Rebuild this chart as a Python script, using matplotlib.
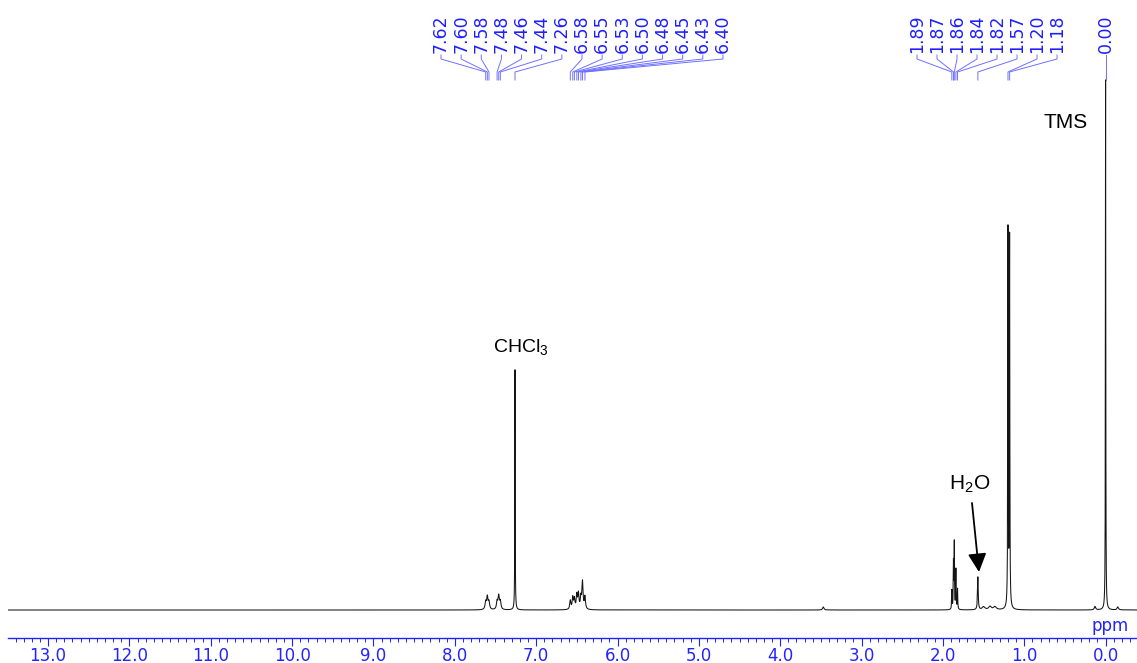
import numpy as np
import matplotlib
matplotlib.use("Agg")
import matplotlib.pyplot as plt
from matplotlib.ticker import FixedLocator, MultipleLocator

# ---------------- data ----------------
peak_ppm = [7.62, 7.60, 7.58, 7.48, 7.46, 7.44, 7.26,
            6.58, 6.55, 6.53, 6.50, 6.48, 6.45, 6.43, 6.40,
            3.47,
            1.89, 1.87, 1.86, 1.84, 1.82, 1.57, 1.50, 1.42, 1.36,
            1.20, 1.18, 0.13, 0.00, -0.15]
peak_height = [2.0, 3.3, 2.0, 2.1, 3.5, 2.1, 63.7,
               2.35, 3.1, 2.65, 3.7, 4.0, 3.0, 7.2, 3.3,
               0.8,
               5.0, 12.0, 17.3, 10.5, 5.4, 8.7, 0.8, 0.9, 0.8,
               100.0, 98.0, 0.9, 140.6, 0.8]
peak_hwhm = [0.009, 0.009, 0.009, 0.009, 0.009, 0.009, 0.0025,
             0.008, 0.008, 0.008, 0.008, 0.008, 0.008, 0.008, 0.008,
             0.01,
             0.003, 0.003, 0.003, 0.003, 0.003, 0.005, 0.02, 0.02, 0.02,
             0.003, 0.003, 0.01, 0.0025, 0.01]

labels_left = ["7.62", "7.60", "7.58", "7.48", "7.46", "7.44", "7.26",
               "6.58", "6.55", "6.53", "6.50", "6.48", "6.45", "6.43", "6.40"]
labels_right = ["1.89", "1.87", "1.86", "1.84", "1.82", "1.57", "1.20", "1.18"]
label_tms = "0.00"

major_ticks = list(range(0, 14))
tick_labels = ["%.1f" % t for t in major_ticks]

# ---------------- layout ----------------
W, H = 1137, 663
px_per_ppm = 81.35
x0_px = 1105.6          # pixel column of 0 ppm
ax_left_px = 8
ax_bottom_px = 637.5    # from top
base_px = 610.0         # baseline row from top
px_per_unit = 3.77

fig = plt.figure(figsize=(W / 100, H / 100), dpi=100)
ax = fig.add_axes([ax_left_px / W, (H - ax_bottom_px) / H,
                   (W - ax_left_px) / W, ax_bottom_px / H])

def ppm_of(px):
    return (x0_px - px) / px_per_ppm

def yfrac(py):
    return (ax_bottom_px - py) / ax_bottom_px

ax.set_xlim(ppm_of(ax_left_px), ppm_of(W))
ax.set_ylim(-(ax_bottom_px - base_px) / px_per_unit, base_px / px_per_unit)

# spectrum
x = np.arange(-0.5, 13.6, 0.0005)
y = np.zeros_like(x)
for c, h, w in zip(peak_ppm, peak_height, peak_hwhm):
    y += h / (1.0 + ((x - c) / w) ** 2)
ax.plot(x, y, color="#151515", lw=0.75)

# axes styling
for s in ["top", "left", "right"]:
    ax.spines[s].set_visible(False)
blue = "#2323ff"
ax.spines["bottom"].set_color(blue)
ax.spines["bottom"].set_linewidth(1.0)
ax.yaxis.set_visible(False)
ax.xaxis.set_major_locator(FixedLocator(major_ticks))
ax.set_xticklabels(tick_labels)
ax.xaxis.set_minor_locator(MultipleLocator(0.1))
ax.tick_params(axis="x", which="major", direction="out", length=6, width=0.8,
               color=blue, labelcolor=blue, labelsize=12, pad=0.5)
ax.tick_params(axis="x", which="minor", direction="out", length=3, width=0.7,
               color=blue)

tr = ax.get_xaxis_transform()
ax.text(ppm_of(1110), yfrac(626), "ppm", color=blue, fontsize=12,
        ha="center", va="center", transform=tr)

# peak labels with connectors
lab_color = "#1f1fff"
line_color = "#7070ff"
y_txt, y1, y2, y3 = 53, 59, 72, 80

def draw_group(labels, start_px, step_px):
    for i, lab in enumerate(labels):
        lx = ppm_of(start_px + i * step_px)
        px = float(lab)
        ax.text(lx, yfrac(y_txt), lab, rotation=90, rotation_mode="anchor",
                ha="left", va="center", color=lab_color, fontsize=12.5,
                transform=tr)
        ax.plot([lx, lx, px, px], [yfrac(y_txt + 2), yfrac(y1), yfrac(y2), yfrac(y3)],
                color=line_color, lw=0.7, transform=tr, clip_on=False)

draw_group(labels_left, 441, 20.14)
draw_group(labels_right, 917, 20.0)
ax.text(0.0, yfrac(y_txt), label_tms, rotation=90, rotation_mode="anchor",
        ha="left", va="center", color=lab_color, fontsize=12.5, transform=tr)
ax.plot([0.0, 0.0], [yfrac(y_txt + 2), yfrac(y3)], color=line_color, lw=0.7,
        transform=tr)

# annotations
plt.rcParams["mathtext.fontset"] = "custom"
plt.rcParams["mathtext.rm"] = "Liberation Sans"
ann = dict(color="black", family="Liberation Sans", transform=tr,
           ha="center", va="center")
ax.text(ppm_of(1066), yfrac(122), "TMS", fontsize=15, **ann)
ax.text(ppm_of(521), yfrac(348), r"CHCl$_\mathrm{3}$", fontsize=14, **ann)
ax.text(ppm_of(970), yfrac(484), r"H$_\mathrm{2}$O", fontsize=15, **ann)
ax.annotate("", xy=(ppm_of(979), yfrac(572)), xycoords=tr,
            xytext=(ppm_of(972), yfrac(503)), textcoords=tr,
            arrowprops=dict(arrowstyle="-|>,head_length=0.8,head_width=0.4",
                            color="black", lw=1.3, mutation_scale=14,
                            shrinkA=0, shrinkB=0))

fig.savefig("out.png", dpi=100)
